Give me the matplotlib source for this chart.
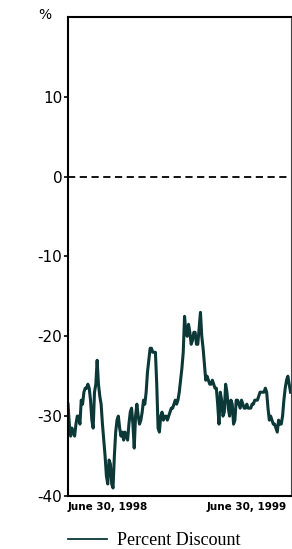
import matplotlib
matplotlib.use("Agg")
import matplotlib.pyplot as plt
import pandas as pd

# twice-weekly percent discount, starting June 30, 1998
start = "1998-06-30"
discount = [
    -28.5, -31, -32.5, -31.5, -32, -32.5, -31, -30, -30, -31,
    -28, -28.5, -27, -26.5, -26.5, -26, -26.5, -28, -30.5, -31.5,
    -27, -26, -23, -26, -27.5, -28.5, -31, -33, -35, -37.5,
    -38.5, -35.5, -36, -38.5, -39, -35, -32, -30.5, -30, -31.5,
    -32.5, -32, -33, -32, -32.5, -33, -31, -29.5, -29, -31,
    -34, -30, -28.5, -30, -31, -30.5, -29.5, -28, -28.5, -27,
    -24.5, -23, -21.5, -21.5, -22, -22, -22, -26, -31.5, -32,
    -30, -29.5, -30.5, -30, -30, -30.5, -30, -29.5, -29, -29,
    -28.5, -28, -28.5, -28, -27, -25.5, -24, -22, -17.5, -19.5,
    -20, -18.5, -19.5, -21, -20.5, -19.5, -19.5, -21, -21, -19,
    -17, -20, -21.5, -23.5, -25.5, -25, -25.5, -26, -26, -25.5,
    -26, -26.5, -26.5, -28.5, -31, -27, -28, -30, -29.5, -26,
    -27, -29, -30, -28, -28.5, -31, -30.5, -28, -28, -28.5,
    -29, -28, -28.5, -29, -29, -28.5, -29, -29, -29, -28.5,
    -28.5, -28, -28, -28, -27.5, -27, -27, -27, -27, -26.5,
    -27, -29, -30.5, -30, -30.5, -31, -31, -31.5, -32, -30.5,
    -31, -31, -30, -28, -26.5, -25.5, -25, -26, -27,
]
date_ticks = ["1998-06-30", "1999-06-30"]
date_labels = ["June 30, 1998", "June 30, 1999"]
y_ticks = [-40, -30, -20, -10, 0, 10]

dates = pd.date_range(start, periods=len(discount), freq="84h")

fig = plt.figure(figsize=(2.92, 5.49), dpi=100)
ax = fig.add_axes([0.2329, 0.0966, 0.762, 0.8725])

ax.plot(dates, discount, color="#0d3838", lw=2.2, label="Percent Discount")
ax.axhline(0, color="black", lw=1.3, ls=(0, (4, 2.5)))

ax.set_ylim(-40, 20)
ax.set_xlim(dates[0], dates[-1])
ax.set_yticks(y_ticks)
ax.set_yticklabels([str(v) for v in y_ticks], fontsize=11)
ax.tick_params(axis="y", length=3, width=1.2, pad=1)
fig.text(0.155, 0.972, "%", ha="center", va="center", fontsize=10)

ax.set_xticks(pd.to_datetime(date_ticks))
ax.set_xticklabels(date_labels, fontsize=7.5, fontweight="bold", ha="left")
ax.tick_params(axis="x", length=0, pad=4)

for s in ["left", "bottom", "top"]:
    ax.spines[s].set_linewidth(1.5)
ax.spines["right"].set_linewidth(0.8)
ax.spines["right"].set_color("#444444")

leg = fig.legend(loc="center left", bbox_to_anchor=(0.233, 0.0146), frameon=False,
                 prop={"family": "Liberation Serif", "size": 13},
                 handlelength=2.15, handletextpad=0.55,
                 borderpad=0, borderaxespad=0)
for line in leg.get_lines():
    line.set_linewidth(1.3)

fig.savefig("out.png", dpi=100)
